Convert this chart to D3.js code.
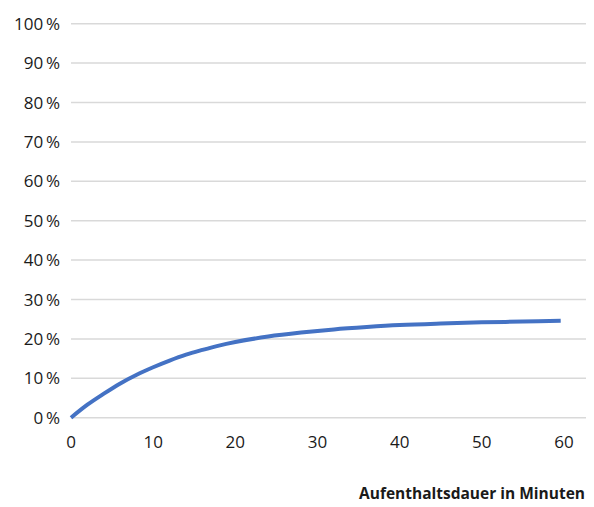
<!DOCTYPE html>
<html>
<head>
<meta charset="utf-8">
<script src="https://cdn.jsdelivr.net/npm/d3@7"></script>
<style>
  html, body { margin: 0; padding: 0; background: #fff; }
  svg { display: block; }
  text { font-family: "Open Sans", Lato, sans-serif; fill: #1a1a1a; }
</style>
</head>
<body>
<svg id="chart" width="594" height="507"></svg>
<script>
// Cumulative share over length of stay (minutes)
const minutes = [0, 2, 4, 6, 8, 10, 12, 14, 16, 18, 20, 24, 28, 32, 36, 40, 45, 50, 55, 59.6];
const share   = [0, 3.3, 6.1, 8.7, 10.9, 12.8, 14.5, 16.0, 17.2, 18.3, 19.2, 20.6, 21.6, 22.4, 23.0, 23.5, 23.9, 24.2, 24.4, 24.6];

const xTicks = [0, 10, 20, 30, 40, 50, 60];
const yTicks = [0, 10, 20, 30, 40, 50, 60, 70, 80, 90, 100];
const xTitle = "Aufenthaltsdauer in Minuten";

const svg = d3.select("#chart");

const x = d3.scaleLinear().domain([0, 60]).range([71, 564]);
const y = d3.scaleLinear().domain([0, 100]).range([417.7, 23.7]);
const gridRight = 586;

// horizontal gridlines
svg.append("g")
  .selectAll("line")
  .data(yTicks)
  .join("line")
  .attr("x1", x(0))
  .attr("x2", gridRight)
  .attr("y1", d => y(d))
  .attr("y2", d => y(d))
  .attr("stroke", "#d9d9d9")
  .attr("stroke-width", 1.5);

// y axis labels
svg.append("g")
  .selectAll("text")
  .data(yTicks)
  .join("text")
  .attr("x", 60)
  .attr("y", d => y(d) + 6)
  .attr("text-anchor", "end")
  .style("font-size", "17px")
  .text(d => d + "\u2009%");

// x axis labels
svg.append("g")
  .selectAll("text")
  .data(xTicks)
  .join("text")
  .attr("x", d => x(d))
  .attr("y", 448)
  .attr("text-anchor", "middle")
  .style("font-size", "17px")
  .text(d => d);

// axis title
svg.append("text")
  .attr("x", 585)
  .attr("y", 499)
  .attr("text-anchor", "end")
  .style("font-size", "15.5px")
  .style("font-weight", "bold")
  .text(xTitle);

// curve
const line = d3.line()
  .x((d, i) => x(minutes[i]))
  .y(d => y(d))
  .curve(d3.curveMonotoneX);

svg.append("path")
  .datum(share)
  .attr("d", line)
  .attr("fill", "none")
  .attr("stroke", "#4472c4")
  .attr("stroke-width", 4)
  .attr("stroke-linejoin", "round");
</script>
</body>
</html>
